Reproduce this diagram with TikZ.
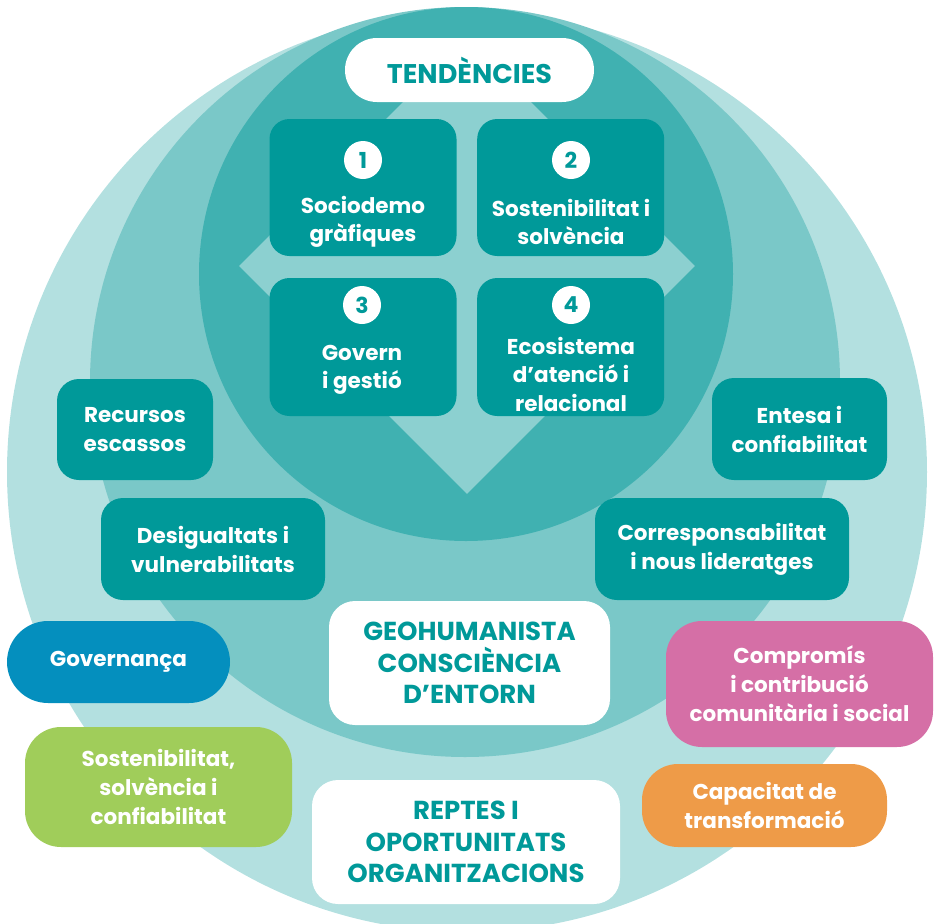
\documentclass[tikz,border=0pt]{standalone}
\usepackage{fontspec}
\setmainfont{Poppins}
\usepackage{xcolor}
\usepackage{tikz}
\usetikzlibrary{shapes.geometric, positioning}

\definecolor{ringlight}{HTML}{B3E0E0}
\definecolor{ringmid}{HTML}{7AC8C8}
\definecolor{ringdark}{HTML}{40B1B1}
\definecolor{diamondfill}{HTML}{8CD0D0}
\definecolor{boxteal}{HTML}{009999}
\definecolor{govblue}{HTML}{048FBE}
\definecolor{sustgreen}{HTML}{A0CD5A}
\definecolor{commpink}{HTML}{D56FA6}
\definecolor{transorange}{HTML}{EE9B48}

\tikzstyle{trend} = [rectangle, rounded corners=20pt, minimum width=187pt, minimum height=137pt, fill=boxteal, inner sep=0pt]
\tikzstyle{badge} = [circle, fill=white, text=boxteal, minimum size=38pt, inner sep=0pt, font=\bfseries\fontsize{22}{22}\selectfont]
\tikzstyle{trendtext} = [text=white, align=center, font=\bfseries\fontsize{21.5}{28.5}\selectfont]
\tikzstyle{factor} = [rectangle, rounded corners=22pt, fill=boxteal, text=white, align=center, inner sep=0pt, font=\bfseries\fontsize{21.5}{29}\selectfont]
\tikzstyle{heading} = [rectangle, rounded corners=26pt, fill=white, text=boxteal, align=center, inner sep=0pt, font=\bfseries\fontsize{26}{31.5}\selectfont]
\tikzstyle{impact} = [rectangle, rounded corners=36pt, text=white, align=center, inner sep=0pt, font=\bfseries\fontsize{21.5}{29}\selectfont]

\begin{document}
\begin{tikzpicture}[x=1pt, y=-1pt]
\useasboundingbox (0,0) rectangle (938,924);
\clip (0,0) rectangle (938,924);

% Background rings
\fill[ringlight] (467,472) circle [radius=460pt];
\fill[ringmid] (465,382) circle [radius=375pt];
\fill[ringdark] (466,274) circle [radius=267pt];

% Diamond behind the trends
\node (frame) [diamond, fill=diamondfill, minimum width=456pt, minimum height=456pt, inner sep=0pt] at (467,266) {};

% Title
\node (tend) [heading, minimum width=249pt, minimum height=64pt, rounded corners=32pt, font=\bfseries\fontsize{27}{27}\selectfont] at (469.5,70) {TENDÈNCIES};

% Trend boxes
\node (b1) [trend] at (363,187.5) {};
\node (b2) [trend, right of=b1, node distance=207.7pt] {};
\node (b3) [trend, below of=b1, node distance=159.5pt, minimum height=138pt] {};
\node (b4) [trend, right of=b3, node distance=207.7pt, minimum height=138pt] {};

% Numbers
\node (n1) [badge] at (363,160) {1};
\node (n2) [badge] at (571,160) {2};
\node (n3) [badge] at (362,305) {3};
\node (n4) [badge] at (571,305) {4};

% Trend labels
\node (t1) [trendtext] at (363,222) {Sociodemo\\gràfiques};
\node (t2) [trendtext] at (571,222) {Sostenibilitat i\\solvència};
\node (t3) [trendtext] at (362,370) {Govern\\i gestió};
\node (t4) [trendtext] at (571,374) {Ecosistema\\d’atenció i\\relacional};

% Factors
\node (rec) [factor, minimum width=156pt, minimum height=101pt] at (135,429.5) {Recursos\\escassos};
\node (des) [factor, minimum width=224pt, minimum height=102pt] at (213,549) {Desigualtats i\\vulnerabilitats};
\node (ent) [factor, minimum width=175pt, minimum height=102pt] at (799.5,429) {Entesa i\\confiabilitat};
\node (cor) [factor, minimum width=254pt, minimum height=102pt] at (722,549) {Corresponsabilitat\\i nous lideratges};

% Centre headings
\node (geo) [heading, minimum width=281pt, minimum height=124pt] at (469.5,663) {GEOHUMANISTA\\CONSCIÈNCIA\\D’ENTORN};
\node (rep) [heading, minimum width=308pt, minimum height=124pt] at (466,842) {REPTES I\\OPORTUNITATS\\ORGANITZACIONS};

% Impacts
\node (gov) [impact, fill=govblue, minimum width=223pt, minimum height=82pt, rounded corners=41pt] at (118.5,662) {Governança};
\node (sos) [impact, fill=sustgreen, minimum width=267pt, minimum height=120pt] at (158.5,787) {Sostenibilitat,\\solvència i\\confiabilitat};
\node (com) [impact, fill=commpink, minimum width=267pt, minimum height=126pt] at (799.5,684) {Compromís\\i contribució\\comunitària i social};
\node (cap) [impact, fill=transorange, minimum width=245pt, minimum height=83pt] at (764.5,805.5) {Capacitat de\\transformació};

\end{tikzpicture}
\end{document}
